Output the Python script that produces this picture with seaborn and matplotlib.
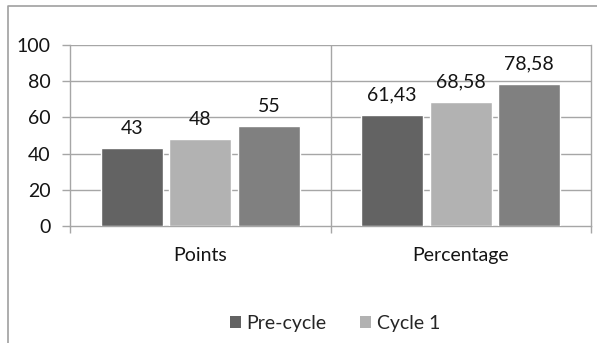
import matplotlib
matplotlib.use("Agg")
import matplotlib.pyplot as plt
from matplotlib.lines import Line2D
from matplotlib.patches import Patch
import seaborn as sns
import pandas as pd

categories = ["Points", "Percentage"]
series = ["Pre-cycle", "Cycle 1", "Cycle 2"]
pre_cycle = [43, 61.43]
cycle_1 = [48, 68.58]
cycle_2 = [55, 78.58]
y_ticks = [0, 20, 40, 60, 80, 100]

colors = ["#636363", "#b2b2b2", "#808080"]
grid_color = "#a6a6a6"
text_color = "#141414"
fs = 14

rows = []
for name, vals in zip(series, [pre_cycle, cycle_1, cycle_2]):
    for cat, v in zip(categories, vals):
        rows.append({"category": cat, "series": name, "value": v})
df = pd.DataFrame(rows)

sns.set_theme(style="white")
plt.rcParams["font.family"] = ["Lato", "DejaVu Sans"]

fig = plt.figure(figsize=(5.97, 3.43), dpi=100)
ax = fig.add_axes([70 / 597, 1 - 226 / 343, (591 - 70) / 597, (226 - 45) / 343])

sns.barplot(data=df, x="category", y="value", hue="series", order=categories,
            hue_order=series, palette=colors, width=0.79, gap=0.1,
            saturation=1, legend=False, ax=ax, zorder=3)

# value labels with comma decimals
for container in ax.containers:
    labels = []
    for bar in container:
        h = bar.get_height()
        txt = f"{h:.2f}".rstrip("0").rstrip(".").replace(".", ",")
        labels.append(txt)
    ax.bar_label(container, labels=labels, padding=8, fontsize=fs, color=text_color)

ax.set_ylim(0, 100)
ax.set_xlim(-0.5, 1.5)
ax.set_yticks(y_ticks)
ax.set_xticks([0, 1])
ax.set_xticklabels(categories)
ax.set_xticks([-0.5, 0.5, 1.5], minor=True)
ax.set_xlabel("")
ax.set_ylabel("")

for yv in y_ticks[1:]:
    ax.axhline(yv, color=grid_color, lw=1, zorder=1)
ax.axvline(0.5, color=grid_color, lw=1, zorder=1)

for side in ["left", "bottom", "right"]:
    ax.spines[side].set_visible(True)
    ax.spines[side].set_color(grid_color)
    ax.spines[side].set_linewidth(1)
ax.spines["top"].set_visible(False)

ax.tick_params(axis="y", which="major", left=True, length=6, width=1,
               color=grid_color, labelsize=fs, labelcolor=text_color, pad=8)
ax.tick_params(axis="x", which="major", bottom=False, labelsize=fs,
               labelcolor=text_color, pad=9)
ax.tick_params(axis="x", which="minor", bottom=True, length=5, width=1,
               color=grid_color)

handles = [Patch(facecolor=colors[0], edgecolor="none"),
           Patch(facecolor=colors[1], edgecolor="none")]
fig.legend(handles, series[:2], loc="center", bbox_to_anchor=(335 / 597, 1 - 323 / 343),
           ncol=2, frameon=False, fontsize=fs, handlelength=0.57, handleheight=0.57,
           handletextpad=0.28, columnspacing=1.75)

# chart-area border (left and top edges)
fig.add_artist(Line2D([8 / 597, 8 / 597, 1.0], [0.0, 1 - 6 / 343, 1 - 6 / 343],
                      transform=fig.transFigure, color="#a0a0a0", lw=1.2))

fig.savefig("out.png", dpi=100)
